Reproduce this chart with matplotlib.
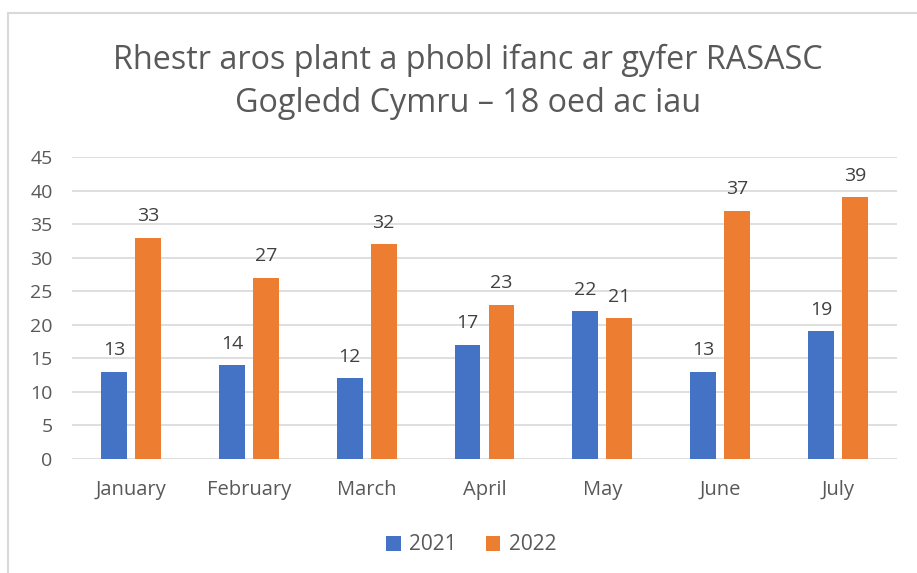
import matplotlib.pyplot as plt
import numpy as np
from matplotlib.patches import Rectangle

plt.rcParams['font.family'] = ['Open Sans', 'DejaVu Sans']

# Data
months = ['January', 'February', 'March', 'April', 'May', 'June', 'July']
y2021 = [13, 14, 12, 17, 22, 13, 19]
y2022 = [33, 27, 32, 23, 21, 37, 39]

blue = '#4472C4'
orange = '#ED7D31'
txt = '#595959'
grid = '#D9D9D9'

fig = plt.figure(figsize=(9.17, 5.73), dpi=100)
ax = fig.add_axes([72/917, 1-459/573, (897-72)/917, (459-157)/573])

x = np.arange(len(months))
w = 0.22
off = 0.144
b1 = ax.bar(x - off, y2021, w, color=blue, label='2021', zorder=3)
b2 = ax.bar(x + off, y2022, w, color=orange, label='2022', zorder=3)

for bars, vals in [(b1, y2021), (b2, y2022)]:
    for b, v in zip(bars, vals):
        ax.annotate(str(v), (b.get_x() + b.get_width()/2, v), xytext=(0, 9),
                    textcoords='offset points', ha='center', va='bottom',
                    fontsize=14, color='#404040')

ax.set_xlim(-0.5, len(months) - 0.5)
ax.set_ylim(0, 45)
ax.set_yticks(range(0, 50, 5))
ax.set_xticks(x)
ax.set_xticklabels(months, fontsize=14.5)
ax.tick_params(axis='both', length=0, colors=txt)
ax.tick_params(axis='y', labelsize=14, pad=14)
ax.tick_params(axis='x', pad=15)
ax.yaxis.grid(True, color=grid, linewidth=1.2, zorder=0)
for s in ax.spines.values():
    s.set_visible(False)

fig.text(468/917, 1-60/573, 'Rhestr aros plant a phobl ifanc ar gyfer RASASC',
         ha='center', va='center', fontsize=23.3, color=txt)
fig.text(468/917, 1-103/573, 'Gogledd Cymru – 18 oed ac iau',
         ha='center', va='center', fontsize=23.3, color=txt)

fig.legend(loc='center', bbox_to_anchor=(471/917, 1-545/573), ncol=2, frameon=False,
           prop={'size': 15}, labelcolor=txt, handlelength=0.7, handleheight=0.7,
           columnspacing=1.4, handletextpad=0.4)

fig.patches.append(Rectangle((8/917, -0.1), 1.2, 1-13/573+0.1, transform=fig.transFigure,
                             fill=False, edgecolor=grid, linewidth=1.5))

fig.savefig('out.png', dpi=100)
